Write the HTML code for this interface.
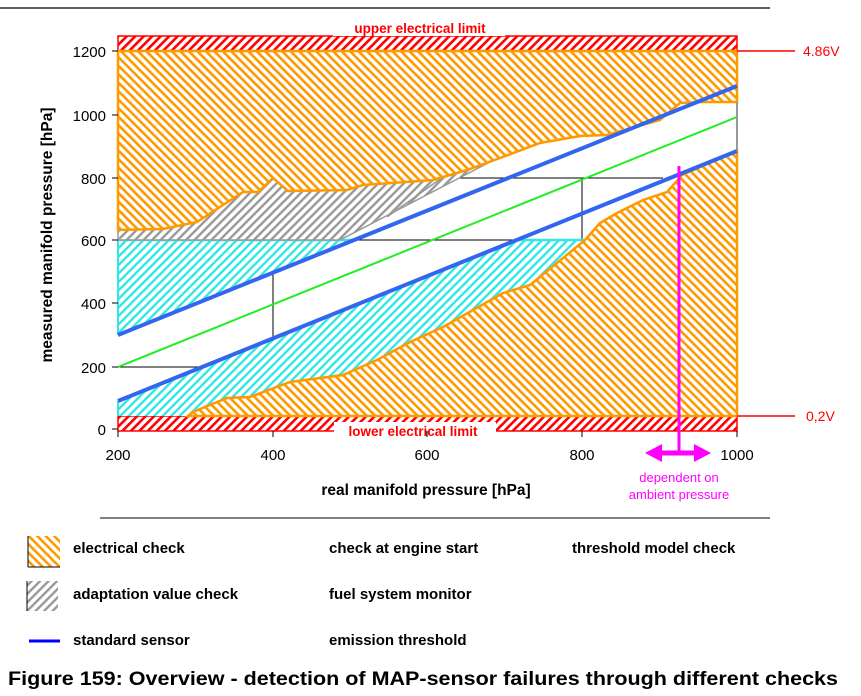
<!DOCTYPE html>
<html><head><meta charset="utf-8"><style>
html,body{margin:0;padding:0;background:#fff;}
svg{display:block;font-family:"Liberation Sans",Arial,sans-serif;}
</style></head><body>
<svg width="861" height="696" viewBox="0 0 861 696" xmlns="http://www.w3.org/2000/svg">
<defs>
<pattern id="po" width="6" height="6" patternUnits="userSpaceOnUse" patternTransform="rotate(-45)"><rect width="6" height="6" fill="#fff"/><rect x="0" y="0" width="2.6" height="6" fill="#ff9900"/></pattern>
<pattern id="pc" width="6" height="6" patternUnits="userSpaceOnUse" patternTransform="rotate(45)"><rect width="6" height="6" fill="#fff"/><rect x="0" y="0" width="2.4" height="6" fill="#33e6e6"/></pattern>
<pattern id="pg" width="6" height="6" patternUnits="userSpaceOnUse" patternTransform="rotate(45)"><rect width="6" height="6" fill="#fff"/><rect x="0" y="0" width="2.4" height="6" fill="#999"/></pattern>
<pattern id="pr" width="6" height="6" patternUnits="userSpaceOnUse" patternTransform="rotate(45)"><rect width="6" height="6" fill="#fff"/><rect x="0" y="0" width="2.6" height="6" fill="#ff0000"/></pattern>
</defs>
<rect width="861" height="696" fill="#fff"/>
<line x1="0" y1="8" x2="770" y2="8" stroke="#000" stroke-width="1.2"/>

<!-- red bands -->
<rect x="118" y="36" width="619" height="15" fill="url(#pr)" stroke="#f00" stroke-width="1.5"/>
<rect x="118" y="416" width="619" height="15" fill="url(#pr)" stroke="#f00" stroke-width="1.5"/>
<rect x="333" y="18" width="172" height="18" fill="#fff"/>
<text x="420" y="33" font-size="13.5" font-weight="bold" fill="#f00" text-anchor="middle">upper electrical limit</text>
<rect x="334" y="422" width="162" height="15" fill="#fff"/>
<text x="413" y="436" font-size="13.5" font-weight="bold" fill="#f00" text-anchor="middle">lower electrical limit</text>

<!-- grid -->
<line x1="118" y1="240" x2="582" y2="240" stroke="#000"/>
<line x1="273" y1="178" x2="663" y2="178" stroke="#000"/>
<line x1="273" y1="178" x2="273" y2="367" stroke="#000"/>
<line x1="118" y1="367" x2="273" y2="367" stroke="#000"/>
<line x1="582" y1="178" x2="582" y2="240" stroke="#000"/>

<!-- cyan -->
<polygon points="118,240 354,240 118,335" fill="url(#pc)"/>
<polygon points="118,401 518,240 585,240 585,416 118,416" fill="url(#pc)"/>
<line x1="118" y1="240" x2="354" y2="240" stroke="#33e6e6" stroke-width="2.5"/>
<line x1="518" y1="240" x2="584" y2="240" stroke="#33e6e6" stroke-width="2.5"/>
<line x1="118" y1="240" x2="118" y2="335" stroke="#33e6e6" stroke-width="2"/>
<line x1="118" y1="401" x2="118" y2="416" stroke="#33e6e6" stroke-width="2"/>

<!-- gray -->
<polygon points="118,230 163,229 197,222 243,192 258,192 273,178 288,191 347,190 363,185 433,180 467,170 490,162 340,240 118,240" fill="url(#pg)" stroke="#999" stroke-width="1.5"/>
<line x1="387" y1="217" x2="443" y2="177" stroke="#999" stroke-width="1.5"/>

<!-- orange upper -->
<polygon points="118,51 737,51 737,102 703,102 680,103 660,120 607,135 580,136 540,143 500,158 467,170 433,180 363,185 347,190 288,191 273,178 258,192 243,192 197,222 163,229 118,230" fill="url(#po)"/>
<polyline points="118,51 118,230 163,229 197,222 243,192 258,192 273,178 288,191 347,190 363,185 433,180 467,170 500,158 540,143 580,136 607,135 660,120 680,103 703,102 737,102 737,51 118,51" fill="none" stroke="#ff9900" stroke-width="2.5"/>
<line x1="737" y1="102" x2="737" y2="151" stroke="#999" stroke-width="2"/>

<!-- orange lower -->
<polygon points="188,416 193,412 227,398 250,397 290,382 343,375 377,360 410,342 443,327 503,293 530,285 585,240 600,223 617,213 643,200 667,192 682,175 737,151 737,416" fill="url(#po)" stroke="#ff9900" stroke-width="2.5"/>

<!-- lines -->
<line x1="118" y1="335" x2="737" y2="86" stroke="#3366ee" stroke-width="4"/>
<line x1="118" y1="367" x2="737" y2="117" stroke="#22ee22" stroke-width="2"/>
<line x1="118" y1="401" x2="737" y2="151" stroke="#3366ee" stroke-width="4"/>

<!-- magenta -->
<line x1="679" y1="166" x2="679" y2="453" stroke="#ff00ff" stroke-width="3"/>
<line x1="658" y1="453" x2="698" y2="453" stroke="#ff00ff" stroke-width="5"/>
<polygon points="645,453 662,444 662,462" fill="#ff00ff"/>
<polygon points="711,453 694,444 694,462" fill="#ff00ff"/>
<text x="679" y="482" font-size="13" fill="#ff00ff" text-anchor="middle">dependent on</text>
<text x="679" y="499" font-size="13" fill="#ff00ff" text-anchor="middle">ambient pressure</text>

<!-- right markers -->
<line x1="737" y1="51" x2="795" y2="51" stroke="#f00" stroke-width="1.5"/>
<line x1="737" y1="416" x2="795" y2="416" stroke="#f00" stroke-width="1.5"/>
<text x="803" y="56" font-size="14" fill="#f00">4.86V</text>
<text x="806" y="421" font-size="14" fill="#f00">0,2V</text>

<!-- axes ticks -->
<g stroke="#000" stroke-width="1">
<line x1="112" y1="51" x2="118" y2="51"/><line x1="112" y1="115" x2="118" y2="115"/><line x1="112" y1="178" x2="118" y2="178"/><line x1="112" y1="240" x2="118" y2="240"/><line x1="112" y1="303" x2="118" y2="303"/><line x1="112" y1="367" x2="118" y2="367"/><line x1="112" y1="429" x2="118" y2="429"/>
<line x1="118" y1="431" x2="118" y2="437"/><line x1="273" y1="431" x2="273" y2="437"/><line x1="427" y1="431" x2="427" y2="437"/><line x1="582" y1="431" x2="582" y2="437"/><line x1="737" y1="431" x2="737" y2="437"/>
</g>
<g font-size="15" text-anchor="end" fill="#000">
<text x="106" y="57">1200</text><text x="106" y="121">1000</text><text x="106" y="184">800</text><text x="106" y="246">600</text><text x="106" y="309">400</text><text x="106" y="373">200</text><text x="106" y="435">0</text>
</g>
<g font-size="15" text-anchor="middle" fill="#000">
<text x="118" y="460">200</text><text x="273" y="460">400</text><text x="427" y="460">600</text><text x="582" y="460">800</text><text x="737" y="460">1000</text>
</g>
<text x="426" y="495" font-size="15.5" font-weight="bold" text-anchor="middle">real manifold pressure [hPa]</text>
<text transform="translate(52,235) rotate(-90)" font-size="15.5" font-weight="bold" text-anchor="middle">measured manifold pressure [hPa]</text>

<line x1="100" y1="518" x2="770" y2="518" stroke="#000" stroke-width="1"/>

<!-- legend -->
<rect x="28" y="536" width="32" height="31" fill="url(#po)"/>
<line x1="28" y1="536" x2="28" y2="567" stroke="#000"/><line x1="28" y1="567" x2="60" y2="567" stroke="#000"/>
<rect x="27" y="581" width="31" height="30" fill="url(#pg)"/>
<line x1="27" y1="581" x2="27" y2="611" stroke="#000"/>
<line x1="29" y1="641" x2="60" y2="641" stroke="#0000ff" stroke-width="3"/>
<g font-size="15" font-weight="bold" fill="#000">
<text x="73" y="553">electrical check</text>
<text x="73" y="599">adaptation value check</text>
<text x="73" y="645">standard sensor</text>
<text x="329" y="553">check at engine start</text>
<text x="329" y="599">fuel system monitor</text>
<text x="329" y="645">emission threshold</text>
<text x="572" y="553">threshold model check</text>
</g>
<text x="8" y="685" font-size="19" font-weight="bold" textLength="830" lengthAdjust="spacingAndGlyphs">Figure 159: Overview - detection of MAP-sensor failures through different checks</text>
</svg>
</body></html>
